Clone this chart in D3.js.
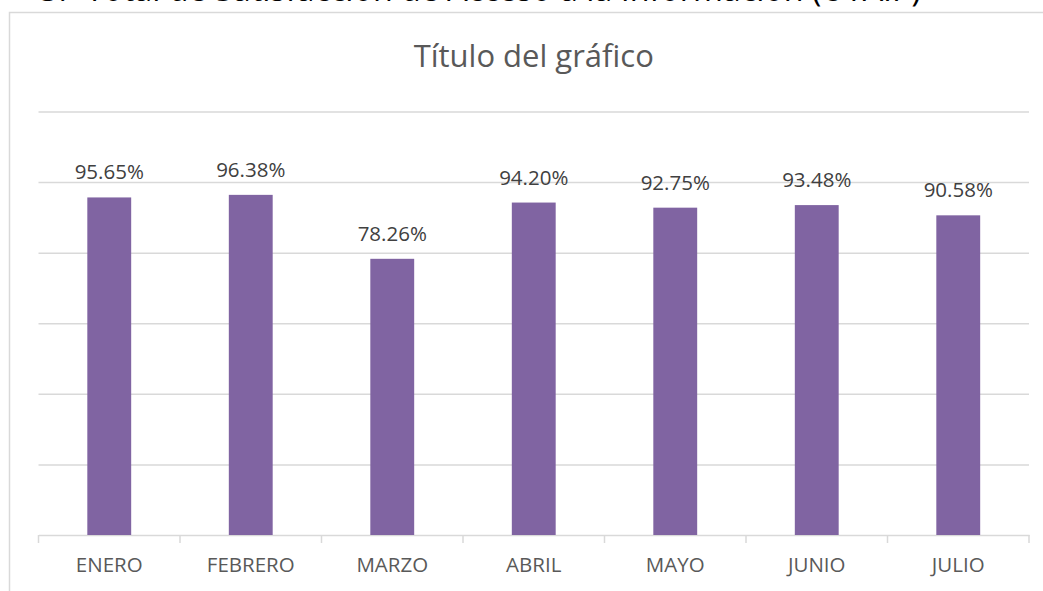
<!DOCTYPE html>
<html>
<head>
<meta charset="utf-8">
<script src="https://cdn.jsdelivr.net/npm/d3@7"></script>
<style>
  body { margin: 0; background: #fff; }
  svg { display: block; font-family: "Open Sans", sans-serif; }
</style>
</head>
<body>
<div id="chart"></div>
<script>
var months = ["ENERO", "FEBRERO", "MARZO", "ABRIL", "MAYO", "JUNIO", "JULIO"];
var values = [95.65, 96.38, 78.26, 94.20, 92.75, 93.48, 90.58];
var yTicks = [0, 20, 40, 60, 80, 100, 120];
var heading = "3.- Total de Satisfacción de Acceso a la Información (UTAIP)";
var chartTitle = "Título del gráfico";

var svgWidth = 1043;
var svgHeight = 591;
var margin = {
    top: 111.5,
    right: 14,
    bottom: 56,
    left: 38.5
};
var width = svgWidth - margin.left - margin.right;
var height = svgHeight - margin.top - margin.bottom;

var svg = d3.select("#chart")
    .append("svg")
    .attr("width", svgWidth)
    .attr("height", svgHeight);

// heading of the page, cut off by the top edge as in the screenshot
svg.append("text")
    .attr("x", 40)
    .attr("y", 1)
    .attr("font-size", 34)
    .attr("fill", "#000")
    .attr("textLength", 881)
    .attr("lengthAdjust", "spacingAndGlyphs")
    .text(heading);

// chart frame
svg.append("rect")
    .attr("x", 9.5)
    .attr("y", 12.5)
    .attr("width", 1100)
    .attr("height", 700)
    .attr("fill", "none")
    .attr("stroke", "#d9d9d9")
    .attr("stroke-width", 1.5);

svg.append("text")
    .attr("x", margin.left + width / 2)
    .attr("y", 67)
    .attr("text-anchor", "middle")
    .attr("font-size", 31)
    .attr("fill", "#595959")
    .text(chartTitle);

var chartGroup = svg.append("g")
    .attr("transform", `translate(${margin.left},${margin.top})`);

var xCat = d3.scaleBand()
    .domain(months)
    .range([0, width]);

var xBar = d3.scaleBand()
    .domain(months)
    .range([0, width])
    .paddingInner(0.69)
    .paddingOuter(0.345);

var yScale = d3.scaleLinear()
    .domain([0, 120])
    .range([height, 0]);

// gridlines
var grid = chartGroup.append("g")
    .call(d3.axisLeft(yScale).tickValues(yTicks.slice(1)).tickSize(-width).tickFormat(""));
grid.select(".domain").remove();
grid.selectAll(".tick line")
    .attr("stroke", "#d9d9d9")
    .attr("stroke-width", 1.5);

// category axis
var xAxis = chartGroup.append("g")
    .attr("transform", `translate(0,${height})`)
    .call(d3.axisBottom(xCat).tickSize(0).tickPadding(22));
xAxis.select(".domain")
    .attr("stroke", "#d9d9d9")
    .attr("stroke-width", 1.5);
xAxis.selectAll("text")
    .attr("font-family", "Open Sans, sans-serif")
    .attr("font-size", 20.5)
    .attr("fill", "#595959");

var boundaries = months.map(d => xCat(d)).concat([width]);
chartGroup.append("g")
    .selectAll("line")
    .data(boundaries)
    .enter()
    .append("line")
    .attr("x1", d => d)
    .attr("x2", d => d)
    .attr("y1", height)
    .attr("y2", height + 8)
    .attr("stroke", "#d9d9d9")
    .attr("stroke-width", 1.5);

chartGroup.selectAll("rect.bar")
    .data(values)
    .enter()
    .append("rect")
    .attr("class", "bar")
    .attr("x", (d, i) => xBar(months[i]))
    .attr("y", d => yScale(d))
    .attr("width", xBar.bandwidth())
    .attr("height", d => height - yScale(d))
    .attr("fill", "#8064a2");

chartGroup.selectAll("text.lbl")
    .data(values)
    .enter()
    .append("text")
    .attr("class", "lbl")
    .attr("x", (d, i) => xCat(months[i]) + xCat.bandwidth() / 2)
    .attr("y", d => yScale(d) - 18)
    .attr("text-anchor", "middle")
    .attr("font-size", 20.5)
    .attr("fill", "#404040")
    .text(d => d.toFixed(2) + "%");
</script>
</body>
</html>
